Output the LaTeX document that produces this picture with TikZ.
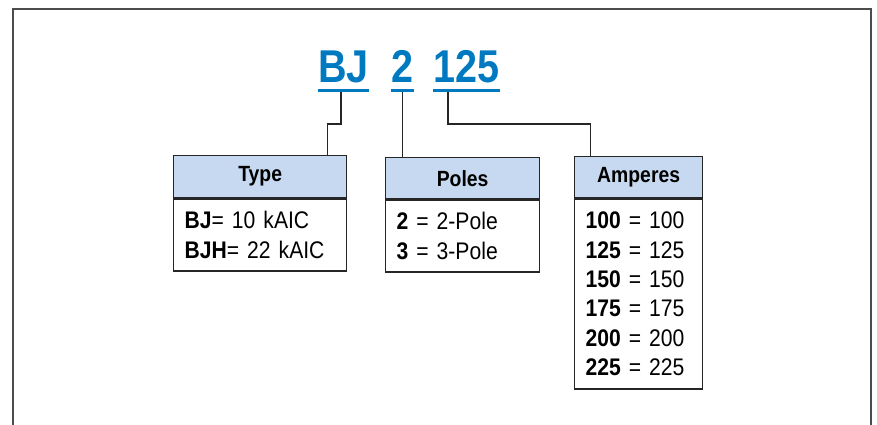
\documentclass[tikz,border=0pt]{standalone}
\usepackage{fontspec}
\setmainfont{Liberation Sans}[FakeStretch=0.88]
\newfontfamily\titlefont{Liberation Sans}[FakeStretch=0.86]
\definecolor{tblue}{HTML}{0079C1}
\definecolor{hfill}{HTML}{C6D9F0}
\begin{document}
\begin{tikzpicture}[x=1pt,y=-1pt,
  frame/.style={draw=black!70, line width=1.6pt},
  titletxt/.style={font=\titlefont\fontsize{46}{50}\selectfont\bfseries, text=tblue, inner sep=0pt, anchor=base},
  ul/.style={draw=tblue, line width=3pt},
  conn/.style={draw=black!85, line width=1.3pt},
  head/.style={draw=black!85, line width=1.3pt, fill=hfill, font=\fontsize{22}{26}\selectfont\bfseries, inner sep=0pt, anchor=north west},
  body/.style={draw=black!85, line width=1.3pt, font=\fontsize{24}{29.4}\selectfont, align=left, inner xsep=11pt, inner ysep=0pt, anchor=north west}]
\useasboundingbox (0,0) rectangle (877,425);
\draw[frame] (13,425) -- (13,9) -- (871,9) -- (871,425);

% title
\node[titletxt] (bj) at (343.5,83) {BJ};
\node[titletxt] (two) at (402.5,83) {2};
\node[titletxt] (amp) at (466.5,83) {125};
\draw[ul] ([yshift=-8pt]bj.base west) -- ([yshift=-8pt]bj.base east);
\draw[ul] ([yshift=-8pt]two.base west) -- ([yshift=-8pt]two.base east);
\draw[ul] ([yshift=-8pt]amp.base west) -- ([yshift=-8pt]amp.base east);

% boxes
\node[head, minimum width=173pt, minimum height=42pt] (typeh) at (173,155) {Type};
\node[body, text width=151pt, minimum height=72pt] (typeb) at (typeh.south west)
  {\textbf{BJ}= 10 kAIC\\\textbf{BJH}= 22 kAIC};

\node[head, minimum width=154pt, minimum height=41pt] (polesh) at (385,157) {Poles};
\node[body, text width=132pt, minimum height=72pt] (polesb) at (polesh.south west)
  {\textbf{2} = 2-Pole\\\textbf{3} = 3-Pole};

\node[head, minimum width=128pt, minimum height=41pt] (amph) at (574,156) {Amperes};
\node[body, text width=106pt, minimum height=190pt] (ampb) at (amph.south west)
  {\textbf{100} = 100\\\textbf{125} = 125\\\textbf{150} = 150\\\textbf{175} = 175\\\textbf{200} = 200\\\textbf{225} = 225};

% connectors
\draw[conn] ([xshift=-2.5pt,yshift=-9.5pt]bj.base) -- ++(0,31.5) -| ([xshift=-20pt]typeh.north east);
\draw[conn] ([yshift=-9.5pt]two.base) -- (two.base |- polesh.north);
\draw[conn] ([xshift=-18.5pt,yshift=-9.5pt]amp.base) -- ++(0,31.5) -| ([xshift=16.5pt]amph.north west);
\end{tikzpicture}
\end{document}
